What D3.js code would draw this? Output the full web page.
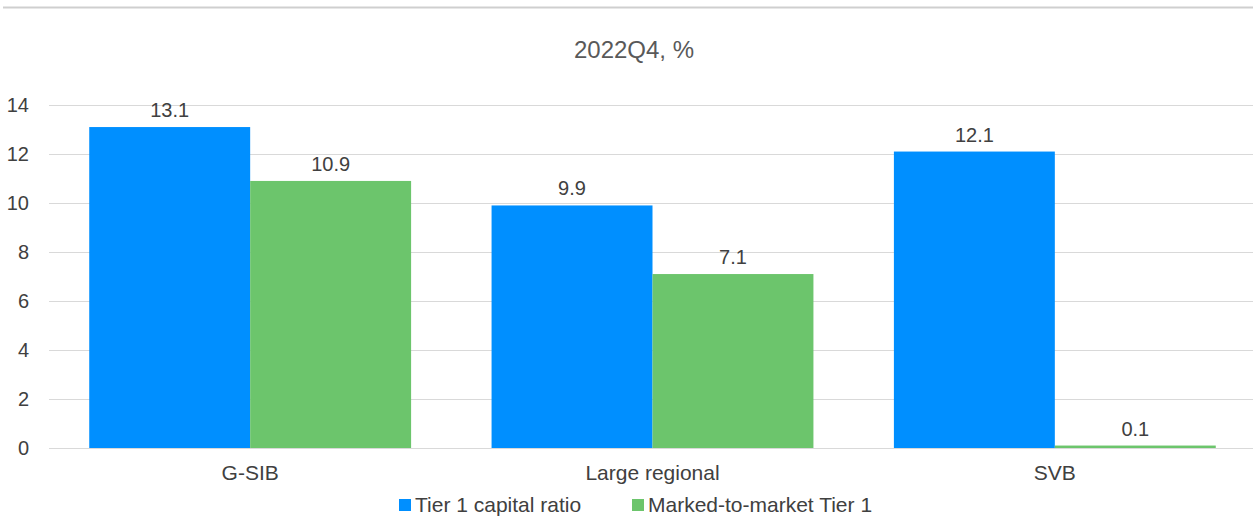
<!DOCTYPE html>
<html><head><meta charset="utf-8">
<script src="https://cdn.jsdelivr.net/npm/d3@7"></script>
<style>body{margin:0;background:#fff}svg{display:block;font-family:"Liberation Sans",Arial,sans-serif}</style>
</head><body><svg id="c" width="1253" height="516"></svg>
<script>
const categories = ["G-SIB", "Large regional", "SVB"];
const seriesNames = ["Tier 1 capital ratio", "Marked-to-market Tier 1"];
const tier1 = [13.1, 9.9, 12.1];
const mtmTier1 = [10.9, 7.1, 0.1];
const yTicks = [0, 2, 4, 6, 8, 10, 12, 14];
const colors = ["#008fff", "#6cc56c"];
const title = "2022Q4, %";

const svg = d3.select("#c");
const W = 1253, H = 516;
const m = {left: 49, right: -3};
const x = d3.scaleBand().domain(categories).range([m.left, W - m.right]).paddingInner(0.2).paddingOuter(0.1);
const xs = d3.scaleBand().domain([0, 1]).range([0, x.bandwidth()]);
const y = d3.scaleLinear().domain([0, 14]).range([448, 105]);

svg.append("line").attr("x1", 3).attr("x2", W).attr("y1", 7.5).attr("y2", 7.5)
  .attr("stroke", "#cfcfcf").attr("stroke-width", 2);

svg.append("text").attr("x", 634).attr("y", 58).attr("text-anchor", "middle")
  .attr("font-size", 24).attr("fill", "#595959").text(title);

// gridlines & y labels
const ya = svg.append("g").attr("transform", `translate(${m.left},0)`)
  .call(d3.axisLeft(y).tickValues(yTicks).tickSize(-(W - m.left)).tickPadding(20));
ya.select(".domain").remove();
ya.selectAll(".tick line").attr("stroke", "#d9d9d9").attr("stroke-width", 1);
ya.selectAll(".tick text").attr("font-size", 20).attr("fill", "#404040")
  .attr("font-family", "Liberation Sans, Arial, sans-serif");

const data = categories.map((c, i) => ({c, v: [tier1[i], mtmTier1[i]]}));
const g = svg.append("g").selectAll("g").data(data).join("g")
  .attr("transform", d => `translate(${x(d.c)},0)`);
g.selectAll("rect").data(d => d.v.map((v, k) => ({v, k}))).join("rect")
  .attr("x", d => xs(d.k)).attr("width", xs.bandwidth())
  .attr("y", d => y(d.v)).attr("height", d => y(0) - y(d.v))
  .attr("fill", d => colors[d.k]);
g.selectAll("text.val").data(d => d.v.map((v, k) => ({v, k}))).join("text")
  .attr("class", "val")
  .attr("x", d => xs(d.k) + xs.bandwidth() / 2).attr("y", d => y(d.v) - 10)
  .attr("text-anchor", "middle").attr("font-size", 20).attr("fill", "#404040")
  .text(d => d.v.toFixed(1));

// x axis labels
const xa = svg.append("g").attr("transform", `translate(0,${y(0)})`)
  .call(d3.axisBottom(x).tickSize(0));
xa.select(".domain").remove();
xa.selectAll(".tick text").attr("y", 32).attr("dy", null).attr("font-size", 21).attr("fill", "#404040")
  .attr("font-family", "Liberation Sans, Arial, sans-serif");

// legend
const legX = [399, 632];
const lg = svg.append("g").selectAll("g").data(seriesNames).join("g")
  .attr("transform", (d, i) => `translate(${legX[i]},499)`);
lg.append("rect").attr("width", 12).attr("height", 12).attr("fill", (d, i) => colors[i]);
lg.append("text").attr("x", 16).attr("y", 13).attr("font-size", 21).attr("fill", "#404040").text(d => d);
</script></body></html>
